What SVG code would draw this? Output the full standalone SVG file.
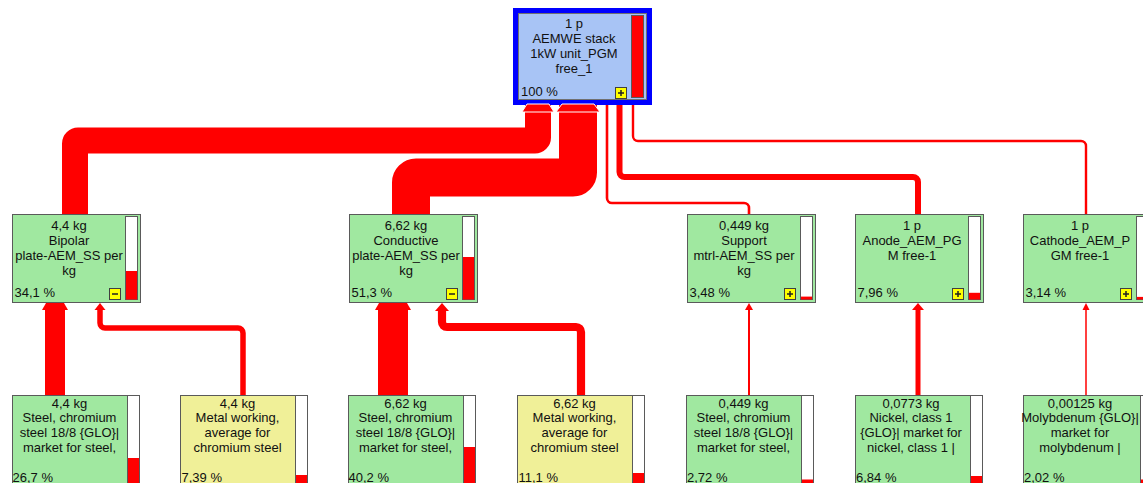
<svg xmlns="http://www.w3.org/2000/svg" width="1143" height="483" viewBox="0 0 1143 483">
<style>
text{font-family:"Liberation Sans",Arial,sans-serif;font-size:13px;fill:#111}
.c{text-anchor:middle}
.box{stroke:#5a5a5a;stroke-width:1}
.g{fill:#a0e8a0}
.y{fill:#f0f098}
.bar{fill:#fff;stroke:#5a5a5a;stroke-width:1}
.red{fill:#ff0000}
.ic{fill:#ffff00;stroke:#404040;stroke-width:1}
.icl{stroke:#202020;stroke-width:1.5;fill:none}
.ln{fill:none;stroke:#ff0000}
.ah{fill:#ff0000}
</style>
<rect width="1143" height="483" fill="#fff"/>

<g id="n-stack">
<rect x="515.5" y="10.5" width="134" height="92" fill="#a8c4f5" stroke="#0000ff" stroke-width="5"/>
<rect x="518.5" y="13.5" width="128" height="86" fill="none" stroke="#707070"/>
<rect x="631.5" y="15.5" width="12" height="82" class="red" stroke="#5a5a5a"/>
<rect x="615.5" y="87.5" width="11" height="11" class="ic"/>
<path d="M618 93 H624 M621 90 V96" class="icl"/>
<text x="574" y="28" class="c">1 p</text>
<text x="574" y="43" class="c">AEMWE stack</text>
<text x="574" y="58" class="c">1kW unit_PGM</text>
<text x="574" y="73" class="c">free_1</text>
<text x="521" y="96">100 %</text>
</g>

<g id="n-bipolar">
<rect x="12.5" y="214.5" width="128" height="88" class="box g"/>
<rect x="125.5" y="216.5" width="12" height="83" class="bar"/>
<rect x="126" y="271" width="11" height="28.5" class="red"/>
<rect x="109.5" y="288.5" width="11" height="11" class="ic"/>
<path d="M112 294 H118" class="icl"/>
<text x="69" y="229.5" class="c">4,4 kg</text>
<text x="69" y="244.5" class="c">Bipolar</text>
<text x="69" y="259.5" class="c">plate-AEM_SS per</text>
<text x="69" y="274.5" class="c">kg</text>
<text x="14.5" y="297">34,1 %</text>
</g>

<g id="n-conductive">
<rect x="349.5" y="214.5" width="128" height="88" class="box g"/>
<rect x="462.5" y="216.5" width="12" height="83" class="bar"/>
<rect x="463" y="257" width="11" height="42.5" class="red"/>
<rect x="446.5" y="288.5" width="11" height="11" class="ic"/>
<path d="M449 294 H455" class="icl"/>
<text x="406" y="229.5" class="c">6,62 kg</text>
<text x="406" y="244.5" class="c">Conductive</text>
<text x="406" y="259.5" class="c">plate-AEM_SS per</text>
<text x="406" y="274.5" class="c">kg</text>
<text x="351.5" y="297">51,3 %</text>
</g>

<g id="n-support">
<rect x="687.5" y="214.5" width="128" height="88" class="box g"/>
<rect x="800.5" y="216.5" width="12" height="83" class="bar"/>
<rect x="801" y="296.6" width="11" height="2.9" class="red"/>
<rect x="784.5" y="288.5" width="11" height="11" class="ic"/>
<path d="M787 294 H793 M790 291 V297" class="icl"/>
<text x="744" y="229.5" class="c">0,449 kg</text>
<text x="744" y="244.5" class="c">Support</text>
<text x="744" y="259.5" class="c">mtrl-AEM_SS per</text>
<text x="744" y="274.5" class="c">kg</text>
<text x="689.5" y="297">3,48 %</text>
</g>

<g id="n-anode">
<rect x="855.5" y="214.5" width="128" height="88" class="box g"/>
<rect x="968.5" y="216.5" width="12" height="83" class="bar"/>
<rect x="969" y="292.8" width="11" height="6.7" class="red"/>
<rect x="952.5" y="288.5" width="11" height="11" class="ic"/>
<path d="M955 294 H961 M958 291 V297" class="icl"/>
<text x="912" y="229.5" class="c">1 p</text>
<text x="912" y="244.5" class="c">Anode_AEM_PG</text>
<text x="912" y="259.5" class="c">M free-1</text>
<text x="857.5" y="297">7,96 %</text>
</g>

<g id="n-cathode">
<rect x="1023.5" y="214.5" width="128" height="88" class="box g"/>
<rect x="1136.5" y="216.5" width="12" height="83" class="bar"/>
<rect x="1137" y="296.9" width="11" height="2.6" class="red"/>
<rect x="1120.5" y="288.5" width="11" height="11" class="ic"/>
<path d="M1123 294 H1129 M1126 291 V297" class="icl"/>
<text x="1080" y="229.5" class="c">1 p</text>
<text x="1080" y="244.5" class="c">Cathode_AEM_P</text>
<text x="1080" y="259.5" class="c">GM free-1</text>
<text x="1025.5" y="297">3,14 %</text>
</g>

<g id="n-steel1">
<rect x="12.5" y="395.5" width="127" height="100" class="box g"/>
<rect x="127.5" y="395.5" width="12" height="100" class="bar"/>
<rect x="128" y="458" width="11" height="30" class="red"/>
<text x="69.5" y="407.5" class="c">4,4 kg</text>
<text x="69.5" y="422" class="c">Steel, chromium</text>
<text x="69.5" y="437" class="c">steel 18/8 {GLO}|</text>
<text x="69.5" y="452" class="c">market for steel,</text>
<text x="12.5" y="481.5">26,7 %</text>
</g>

<g id="n-metal1">
<rect x="180.5" y="395.5" width="127" height="100" class="box y"/>
<rect x="295.5" y="395.5" width="12" height="100" class="bar"/>
<rect x="296" y="475" width="11" height="10" class="red"/>
<text x="237.5" y="407.5" class="c">4,4 kg</text>
<text x="237.5" y="422" class="c">Metal working,</text>
<text x="237.5" y="437" class="c">average for</text>
<text x="237.5" y="452" class="c">chromium steel</text>
<text x="181.5" y="481.5">7,39 %</text>
</g>

<g id="n-steel2">
<rect x="348.5" y="395.5" width="127" height="100" class="box g"/>
<rect x="463.5" y="395.5" width="12" height="100" class="bar"/>
<rect x="464" y="447" width="11" height="40" class="red"/>
<text x="405.5" y="407.5" class="c">6,62 kg</text>
<text x="405.5" y="422" class="c">Steel, chromium</text>
<text x="405.5" y="437" class="c">steel 18/8 {GLO}|</text>
<text x="405.5" y="452" class="c">market for steel,</text>
<text x="348.5" y="481.5">40,2 %</text>
</g>

<g id="n-metal2">
<rect x="517.5" y="395.5" width="127" height="100" class="box y"/>
<rect x="632.5" y="395.5" width="12" height="100" class="bar"/>
<rect x="633" y="473" width="11" height="12" class="red"/>
<text x="574.5" y="407.5" class="c">6,62 kg</text>
<text x="574.5" y="422" class="c">Metal working,</text>
<text x="574.5" y="437" class="c">average for</text>
<text x="574.5" y="452" class="c">chromium steel</text>
<text x="518.5" y="481.5">11,1 %</text>
</g>

<g id="n-steel3">
<rect x="686.5" y="395.5" width="127" height="100" class="box g"/>
<rect x="801.5" y="395.5" width="12" height="100" class="bar"/>
<rect x="802" y="479.5" width="11" height="6" class="red"/>
<text x="743.5" y="407.5" class="c">0,449 kg</text>
<text x="743.5" y="422" class="c">Steel, chromium</text>
<text x="743.5" y="437" class="c">steel 18/8 {GLO}|</text>
<text x="743.5" y="452" class="c">market for steel,</text>
<text x="687" y="481.5">2,72 %</text>
</g>

<g id="n-nickel">
<rect x="855.5" y="395.5" width="127" height="100" class="box g"/>
<rect x="970.5" y="395.5" width="12" height="100" class="bar"/>
<rect x="971" y="476" width="11" height="10" class="red"/>
<text x="911" y="407.5" class="c">0,0773 kg</text>
<text x="911" y="422" class="c">Nickel, class 1</text>
<text x="911" y="437" class="c">{GLO}| market for</text>
<text x="911" y="452" class="c">nickel, class 1 |</text>
<text x="856" y="481.5">6,84 %</text>
</g>

<g id="n-molybdenum">
<rect x="1023.5" y="395.5" width="127" height="100" class="box g"/>
<rect x="1140.5" y="395.5" width="12" height="100" class="bar"/>
<rect x="1141" y="479.5" width="11" height="6" class="red"/>
<text x="1080" y="407.5" class="c">0,00125 kg</text>
<text x="1080" y="422" class="c">Molybdenum {GLO}|</text>
<text x="1080" y="437" class="c">market for</text>
<text x="1080" y="452" class="c">molybdenum |</text>
<text x="1024" y="481.5">2,02 %</text>
</g>

<g id="connectors">
<path class="ln" stroke-width="26" d="M538 105 V137.5 A3 3 0 0 1 535 140.5 H78 A3 3 0 0 0 75 143.5 V214"/>
<path class="ln" stroke-width="38" d="M578 105 V172.5 A5 5 0 0 1 573 177.5 H416 A5 5 0 0 0 411 182.5 V214"/>
<path class="ln" stroke-width="2.6" d="M607 105 V198 A5 5 0 0 0 612 203 H744 A5 5 0 0 1 749 208 V214"/>
<path class="ln" stroke-width="6" d="M619.5 105 V172 A5 5 0 0 0 624.5 177 H913 A5 5 0 0 1 918 182 V214"/>
<path class="ln" stroke-width="2.4" d="M633 105 V136 A5 5 0 0 0 638 141 H1081 A5 5 0 0 1 1086 146 V214"/>
<polygon class="ah" stroke="#fff" stroke-width="1" points="522,112 554,112 549,104 527,104"/>
<polygon class="ah" stroke="#fff" stroke-width="1" points="556,112 600,112 594,104 562,104"/>

<path class="ln" stroke-width="20" d="M55 395 V309"/>
<polygon class="ah" points="42,310 68,310 64,303 46,303"/>
<path class="ln" stroke-width="5.5" d="M243 395 V333 A5 5 0 0 0 238 328 H105 A5 5 0 0 1 100 323 V309"/>
<polygon class="ah" points="94.5,310 105.5,310 100,303"/>
<path class="ln" stroke-width="30" d="M393 395 V309"/>
<polygon class="ah" points="375,310 411,310 407,303 379,303"/>
<path class="ln" stroke-width="8.2" d="M581 395 V332 A5 5 0 0 0 576 327 H447 A5 5 0 0 1 442 322 V309"/>
<polygon class="ah" points="435,311 449,311 442,303"/>
<path class="ln" stroke-width="2" d="M749 395 V309"/>
<polygon class="ah" points="745,310 753,310 749,303"/>
<path class="ln" stroke-width="5" d="M918 395 V309"/>
<polygon class="ah" points="912,310 924,310 918,303"/>
<path class="ln" stroke-width="1.5" d="M1086 395 V309"/>
<polygon class="ah" points="1082.5,310 1089.5,310 1086,303"/>
</g>
</svg>
